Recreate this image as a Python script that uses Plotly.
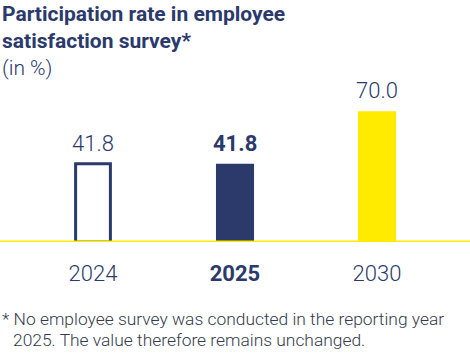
import plotly.graph_objects as go

categories = ["2024", "2025", "2030"]
values = [41.8, 41.8, 70.0]
tick_labels = ["2024", "<b>2025</b>", "2030"]
value_labels = ["41.8", "<b>41.8</b>", "70.0"]

NAVY = "#2b3a6b"
YELLOW = "#ffeb00"
FONT = "Roboto"

fig = go.Figure()
fig.add_trace(go.Bar(
    x=categories,
    y=values,
    width=[0.245, 0.268, 0.268],
    marker=dict(
        color=["#ffffff", NAVY, YELLOW],
        line=dict(color=[NAVY, NAVY, YELLOW], width=[3, 0, 0]),
    ),
    hoverinfo="skip",
))

for i, (v, t) in enumerate(zip(values, value_labels)):
    fig.add_annotation(
        x=i, y=v, text=t, showarrow=False, yanchor="bottom", yshift=6,
        font=dict(family=FONT, size=22, color=NAVY, weight=300),
    )

fig.add_shape(type="line", xref="paper", yref="y", x0=0, x1=1, y0=0, y1=0,
              line=dict(color=YELLOW, width=3), layer="above")

# Title and subtitle
fig.add_annotation(xref="paper", yref="paper", x=0, y=1, xanchor="left", yanchor="top",
                   yshift=90 - 0, text="<b>Participation rate in employee</b>", showarrow=False,
                   font=dict(family=FONT, size=21, color=NAVY))
fig.add_annotation(xref="paper", yref="paper", x=0, y=1, xanchor="left", yanchor="top",
                   yshift=90 - 27, text="<b>satisfaction survey*</b>", showarrow=False,
                   font=dict(family=FONT, size=21, color=NAVY))
fig.add_annotation(xref="paper", yref="paper", x=0, y=1, xanchor="left", yanchor="top",
                   yshift=90 - 54, text="(in %)", showarrow=False,
                   font=dict(family=FONT, size=21, color=NAVY, weight=300))

# Footnote
fig.add_annotation(xref="paper", yref="paper", x=0, y=0, xanchor="left", yanchor="top",
                   yshift=-(307 - 242), text="* No employee survey was conducted in the reporting year",
                   showarrow=False, font=dict(family=FONT, size=17.4, color="#333a4d", weight=300))
fig.add_annotation(xref="paper", yref="paper", x=0, y=0, xanchor="left", yanchor="top",
                   yshift=-(328 - 242), xshift=11, text="2025. The value therefore remains unchanged.",
                   showarrow=False, font=dict(family=FONT, size=17.4, color="#333a4d", weight=300))

fig.update_layout(
    width=470, height=359,
    margin=dict(l=0, r=0, t=90, b=117),
    paper_bgcolor="white", plot_bgcolor="white",
    showlegend=False,
    font=dict(family=FONT, color=NAVY),
    xaxis=dict(
        type="category",
        range=[-0.655, 2.655],
        tickvals=categories, ticktext=tick_labels,
        showgrid=False, zeroline=False, showline=False,
        ticks="", ticklabelstandoff=16,
        tickfont=dict(family=FONT, size=22, color=NAVY, weight=300),
        fixedrange=True,
    ),
    yaxis=dict(range=[0, 81.3], visible=False, fixedrange=True),
)

fig.write_html("out.html", config={"displayModeBar": False},
               post_script="document.body.style.margin='0';document.body.style.overflow='hidden';")
